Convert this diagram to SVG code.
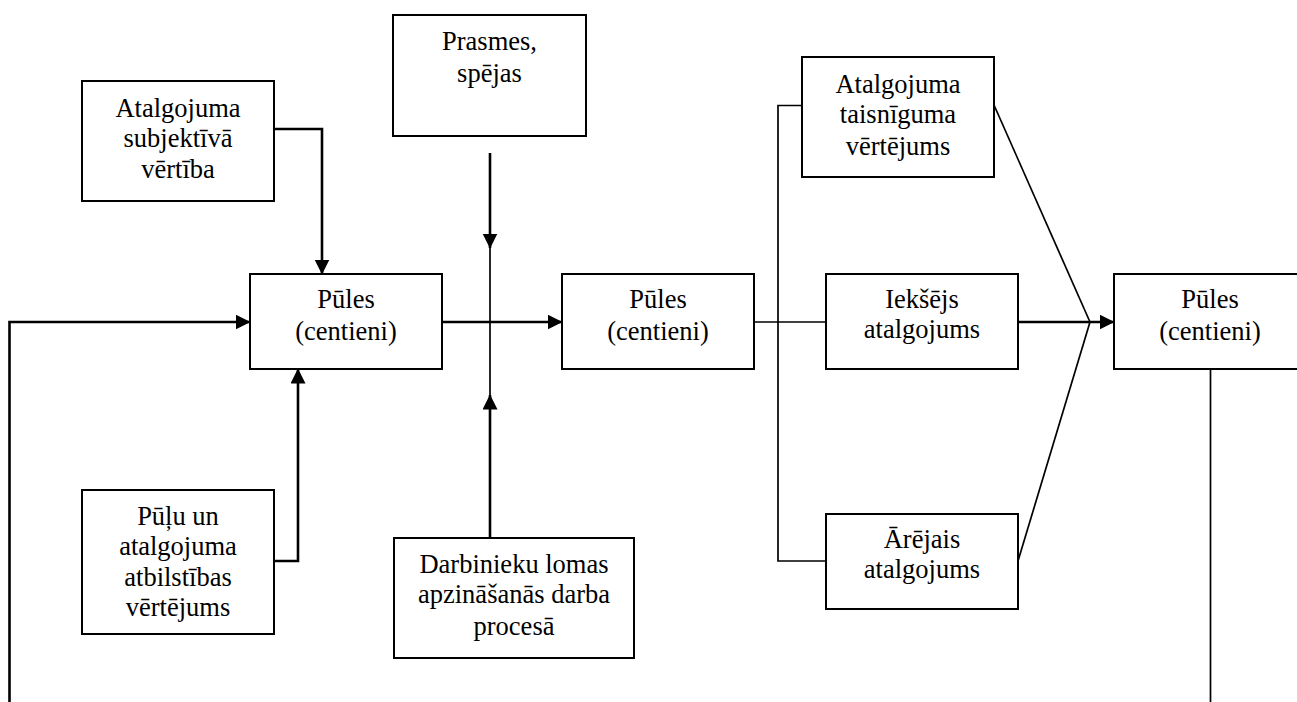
<svg xmlns="http://www.w3.org/2000/svg" width="1297" height="702" viewBox="0 0 1297 702">
  <style>
    .box { fill: #ffffff; stroke: #000000; stroke-width: 2; }
    .lbl { font-family: "Liberation Serif", "Times New Roman", serif; font-size: 26.5px; fill: #000000; text-anchor: middle; }
    .thick { fill: none; stroke: #000000; stroke-width: 2.6; }
    .thin { fill: none; stroke: #000000; stroke-width: 1.7; }
    .arrow { marker-end: url(#head); }
  </style>
  <defs>
    <marker id="head" markerUnits="userSpaceOnUse" markerWidth="15" markerHeight="16" refX="14.5" refY="7.5" orient="auto">
      <path d="M0,0 L15,7.5 L0,15 Z" fill="#000000"/>
    </marker>
  </defs>
  <rect width="1297" height="702" fill="#ffffff"/>

  <g id="connectors">
    <!-- subjective value -> effort -->
    <path class="thick arrow" d="M274,129 H322 V274"/>
    <!-- effort/reward fit -> effort -->
    <path class="thick arrow" d="M274,561 H298 V369"/>
    <!-- feedback loop -->
    <path class="thin" d="M1210.5,369 V702"/>
    <path class="thick arrow" d="M9.5,702 V322 H250"/>
    <!-- effort -> effort -->
    <path class="thick arrow" d="M442,322 H562"/>
    <!-- skills and role awareness crossing -->
    <path class="thick arrow" d="M490,153 V248"/>
    <path class="thin" d="M490,248 V395"/>
    <path class="thick arrow" d="M490,538 V395"/>
    <!-- effort -> rewards -->
    <path class="thin" d="M754,322 H826"/>
    <path class="thin" d="M802,105.5 H778 V561 H826"/>
    <!-- rewards converge -> effort -->
    <path class="thin" d="M994,105 L1090,322"/>
    <path class="thin" d="M1018,561 L1090,322"/>
    <path class="thick arrow" d="M1018,322 H1114"/>
  </g>

  <g id="subjective-value">
    <rect class="box" x="82" y="81" width="192" height="120"/>
    <text class="lbl" x="178" y="117">Atalgojuma</text>
    <text class="lbl" x="178" y="147">subjektīvā</text>
    <text class="lbl" x="178" y="178">vērtība</text>
  </g>

  <g id="skills">
    <rect class="box" x="393" y="15" width="193" height="121"/>
    <text class="lbl" x="489.5" y="50">Prasmes,</text>
    <text class="lbl" x="489.5" y="82">spējas</text>
  </g>

  <g id="effort-1">
    <rect class="box" x="250" y="274" width="192" height="95"/>
    <text class="lbl" x="346" y="308">Pūles</text>
    <text class="lbl" x="346" y="340">(centieni)</text>
  </g>

  <g id="effort-reward-fit">
    <rect class="box" x="82" y="490" width="192" height="144"/>
    <text class="lbl" x="178" y="525">Pūļu un</text>
    <text class="lbl" x="178" y="555">atalgojuma</text>
    <text class="lbl" x="178" y="586">atbilstības</text>
    <text class="lbl" x="178" y="616">vērtējums</text>
  </g>

  <g id="role-awareness">
    <rect class="box" x="394" y="538" width="240" height="120"/>
    <text class="lbl" x="514" y="573">Darbinieku lomas</text>
    <text class="lbl" x="514" y="603">apzināšanās darba</text>
    <text class="lbl" x="514" y="635">procesā</text>
  </g>

  <g id="effort-2">
    <rect class="box" x="562" y="274" width="192" height="95"/>
    <text class="lbl" x="658" y="308">Pūles</text>
    <text class="lbl" x="658" y="340">(centieni)</text>
  </g>

  <g id="fairness">
    <rect class="box" x="802" y="57" width="192" height="120"/>
    <text class="lbl" x="898" y="93">Atalgojuma</text>
    <text class="lbl" x="898" y="123">taisnīguma</text>
    <text class="lbl" x="898" y="155">vērtējums</text>
  </g>

  <g id="intrinsic-reward">
    <rect class="box" x="826" y="274" width="192" height="95"/>
    <text class="lbl" x="922" y="308">Iekšējs</text>
    <text class="lbl" x="922" y="338">atalgojums</text>
  </g>

  <g id="extrinsic-reward">
    <rect class="box" x="826" y="514" width="192" height="95"/>
    <text class="lbl" x="922" y="548">Ārējais</text>
    <text class="lbl" x="922" y="578">atalgojums</text>
  </g>

  <g id="effort-3">
    <rect class="box" x="1114" y="274" width="192" height="95"/>
    <text class="lbl" x="1210" y="308">Pūles</text>
    <text class="lbl" x="1210" y="340">(centieni)</text>
  </g>
</svg>
